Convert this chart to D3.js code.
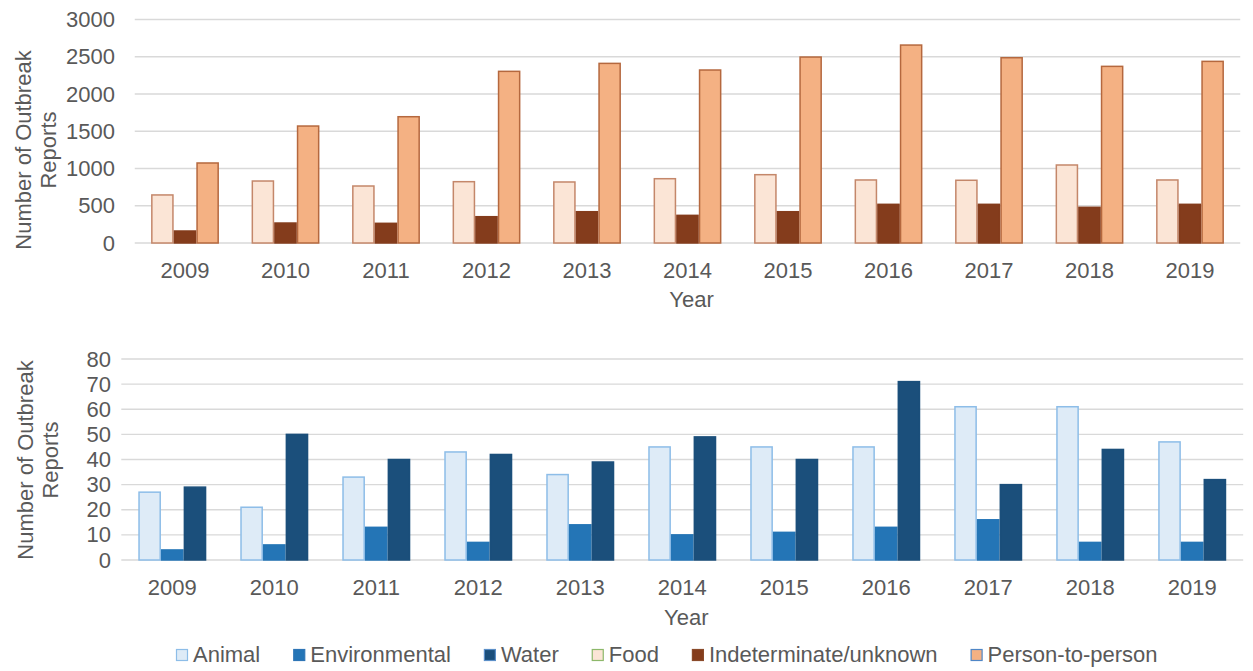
<!DOCTYPE html>
<html>
<head>
<meta charset="utf-8">
<script src="https://cdn.jsdelivr.net/npm/d3@7"></script>
<style>
  body { margin: 0; background: #fff; }
  text { font-family: "Liberation Sans", Arial, sans-serif; fill: #595959; }
</style>
</head>
<body>
<svg id="chart" width="1253" height="671"></svg>
<script>
// data
const years = ['2009', '2010', '2011', '2012', '2013', '2014', '2015', '2016', '2017', '2018', '2019'];

const food = [645, 832, 765, 823, 819, 863, 917, 846, 842, 1047, 846];
const indeterminate = [161, 268, 264, 353, 420, 371, 420, 519, 519, 479, 519];
const personToPerson = [1074, 1570, 1695, 2304, 2411, 2322, 2496, 2657, 2487, 2371, 2438];

const animal = [27, 21, 33, 43, 34, 45, 45, 45, 61, 61, 47];
const environmental = [4, 6, 13, 7, 14, 10, 11, 13, 16, 7, 7];
const water = [29, 50, 40, 42, 39, 49, 40, 71, 30, 44, 32];

const topTicks = [0, 500, 1000, 1500, 2000, 2500, 3000];
const bottomTicks = [0, 10, 20, 30, 40, 50, 60, 70, 80];

const svg = d3.select('#chart');

const topSeries = [
    {name: 'Food', values: food, fill: '#FBE5D6', stroke: '#C4876A', legendStroke: '#8DB86A'},
    {name: 'Indeterminate/unknown', values: indeterminate, fill: '#843C1C', stroke: '#843C1C', legendStroke: '#8A4A2A'},
    {name: 'Person-to-person', values: personToPerson, fill: '#F4B183', stroke: '#B5683E', legendStroke: '#4F86C6'}
];
const bottomSeries = [
    {name: 'Animal', values: animal, fill: '#DEEBF7', stroke: '#8DBDE8', legendStroke: '#8DBDE8'},
    {name: 'Environmental', values: environmental, fill: '#2475B6', stroke: '#2475B6', legendStroke: '#2E75B6'},
    {name: 'Water', values: water, fill: '#1B4F7B', stroke: '#1B4F7B', legendStroke: '#5B8FC8'}
];

function drawPanel(cfg) {
    const g = svg.append('g');

    const x0 = d3.scaleBand()
        .domain(years)
        .range([cfg.left, cfg.right])
        .paddingInner(cfg.pad)
        .paddingOuter(cfg.pad / 2);
    const x1 = d3.scaleBand()
        .domain(cfg.series.map(s => s.name))
        .range([0, x0.bandwidth()]);
    const y = d3.scaleLinear()
        .domain([0, cfg.ticks[cfg.ticks.length - 1]])
        .range([cfg.bottom, cfg.top]);

    // gridlines
    g.selectAll('line.grid')
        .data(cfg.ticks)
        .join('line')
        .attr('class', 'grid')
        .attr('x1', cfg.left)
        .attr('x2', cfg.right)
        .attr('y1', d => y(d))
        .attr('y2', d => y(d))
        .attr('stroke', '#D9D9D9')
        .attr('stroke-width', 1.3);

    // y axis labels (no axis line in the reference)
    const yAxis = d3.axisLeft(y)
        .tickValues(cfg.ticks)
        .tickFormat(d3.format('d'))
        .tickSize(0)
        .tickPadding(0);
    const ya = g.append('g')
        .attr('transform', `translate(${cfg.yLabelX},0)`)
        .call(yAxis);
    ya.select('.domain').remove();
    ya.selectAll('text')
        .style('font-size', '22px')
        .attr('fill', '#595959')
        .style('font-family', '"Liberation Sans", Arial, sans-serif');

    // bars
    cfg.series.forEach(s => {
        g.selectAll(null)
            .data(years)
            .join('rect')
            .attr('x', (d) => x0(d) + x1(s.name) + 0.75)
            .attr('width', x1.bandwidth() - 1.5)
            .attr('y', (d, i) => y(s.values[i]))
            .attr('height', (d, i) => y(0) - y(s.values[i]))
            .attr('fill', s.fill)
            .attr('stroke', s.stroke)
            .attr('stroke-width', 1.5);
    });

    // year labels
    const xAxis = d3.axisBottom(x0).tickSize(0).tickPadding(0);
    const xa = g.append('g')
        .attr('transform', `translate(0,${cfg.yearY})`)
        .call(xAxis);
    xa.select('.domain').remove();
    xa.selectAll('text')
        .attr('dy', null)
        .style('font-size', '22px')
        .attr('fill', '#595959')
        .style('font-family', '"Liberation Sans", Arial, sans-serif');

    g.append('text')
        .attr('x', (cfg.left + cfg.right) / 2 + 4)
        .attr('y', cfg.titleY)
        .attr('text-anchor', 'middle')
        .style('font-size', '22px')
        .text('Year');

    // y title, two lines rotated
    const yt = g.append('text')
        .attr('transform', `translate(${cfg.yTitleX},${cfg.yTitleY}) rotate(-90)`)
        .attr('text-anchor', 'middle')
        .style('font-size', '22px');
    yt.append('tspan').attr('x', 0).attr('y', 0).text('Number of Outbreak');
    yt.append('tspan').attr('x', 0).attr('y', 25).text('Reports');
}

drawPanel({
    series: topSeries, ticks: topTicks,
    left: 134.75, right: 1240.25, top: 19.5, bottom: 243, pad: 0.325,
    yLabelX: 115, yearY: 277.5, titleY: 307, yTitleX: 31, yTitleY: 150
});

drawPanel({
    series: bottomSeries, ticks: bottomTicks,
    left: 121.3, right: 1243.2, top: 359, bottom: 560, pad: 0.333,
    yLabelX: 111, yearY: 595, titleY: 625, yTitleX: 32.5, yTitleY: 460
});

// legend
const legendItems = bottomSeries.concat(topSeries);
const legend = svg.append('g');
let lx = 0;
legendItems.forEach(s => {
    const item = legend.append('g').attr('transform', `translate(${lx},0)`);
    item.append('rect')
        .attr('x', 0.5)
        .attr('y', 649.5)
        .attr('width', 11)
        .attr('height', 11)
        .attr('fill', s.fill)
        .attr('stroke', s.legendStroke)
        .attr('stroke-width', 1.2);
    const t = item.append('text')
        .attr('x', 17)
        .attr('y', 662)
        .style('font-size', '22px')
        .text(s.name);
    lx += 17 + t.node().getComputedTextLength() + 33;
});
const legendWidth = lx - 33;
legend.attr('transform', `translate(${176},0)`);
</script>
</body>
</html>
